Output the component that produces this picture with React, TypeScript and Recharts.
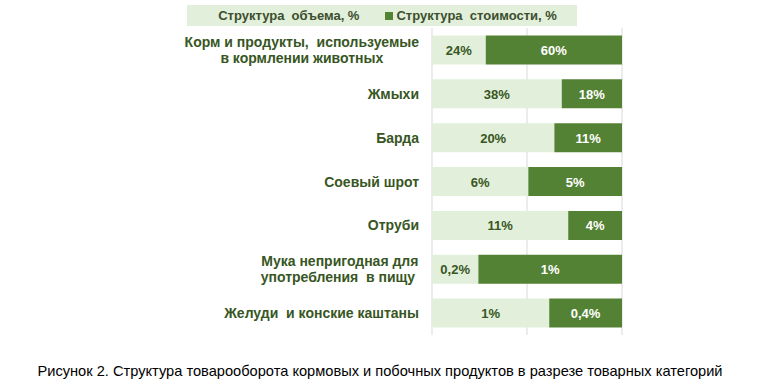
import React from "react";
import { BarChart, Bar, XAxis, YAxis, CartesianGrid, Legend, LabelList } from "recharts";

const categories = [
  "Корм и продукты,  используемые\nв кормлении животных",
  "Жмыхи",
  "Барда",
  "Соевый шрот",
  "Отруби",
  "Мука непригодная для\nупотребления  в пищу ",
  "Желуди  и конские каштаны",
];
// share of bar length, %
const volumeShare = [28.3, 68.3, 64.4, 50.7, 71.7, 24.4, 61.7];
const costShare = [71.7, 31.7, 35.6, 49.3, 28.3, 75.6, 38.3];
const volumeLabels = ["24%", "38%", "20%", "6%", "11%", "0,2%", "1%"];
const costLabels = ["60%", "18%", "11%", "5%", "4%", "1%", "0,4%"];
const seriesNames = ["Структура  объема, %", "Структура  стоимости, %"];
const caption =
  "Рисунок 2. Структура товарооборота кормовых и побочных продуктов в разрезе товарных категорий";

const data = categories.map((c, i) => ({
  name: c,
  vol: volumeShare[i],
  cost: costShare[i],
  volLabel: volumeLabels[i],
  costLabel: costLabels[i],
}));

const FONT = "'Liberation Sans', Arial, sans-serif";
const LIGHT = "#E2EFDA";
const DARK = "#548235";
const TEXT = "#375623";

let ctx: CanvasRenderingContext2D | null = null;
function measure(t: string, font: string) {
  if (!ctx) ctx = document.createElement("canvas").getContext("2d");
  if (!ctx) return t.length * 8;
  ctx.font = font;
  return ctx.measureText(t).width;
}

function CategoryTick(props: any) {
  const { x, y, payload } = props;
  const lines: string[] = String(payload.value).split("\n");
  const font = `bold 14px ${FONT}`;
  const maxW = Math.max(...lines.map((l) => measure(l, font)));
  const cx = x - maxW / 2;
  const lh = 16;
  const startDy = -((lines.length - 1) * lh) / 2;
  return (
    <text
      x={cx}
      y={y}
      textAnchor="middle"
      fontFamily={FONT}
      fontSize={14}
      fontWeight="bold"
      fill={TEXT}
      style={{ whiteSpace: "pre" }}
    >
      {lines.map((l, i) => (
        <tspan key={i} x={cx} dy={i === 0 ? startDy + 5 : lh} style={{ whiteSpace: "pre" }}>
          {l}
        </tspan>
      ))}
    </text>
  );
}

function makeLabel(key: "volLabel" | "costLabel", color: string) {
  return (props: any) => {
    const { x, y, width, height, index } = props;
    const txt = data[index][key];
    return (
      <text
        x={x + width / 2}
        y={y + height / 2 + 5}
        textAnchor="middle"
        fontFamily={FONT}
        fontSize={13}
        fontWeight="bold"
        fill={color}
      >
        {txt}
      </text>
    );
  };
}

function LegendContent() {
  const colors = [LIGHT, DARK];
  return (
    <div
      style={{
        background: LIGHT,
        height: 21,
        display: "flex",
        alignItems: "center",
        justifyContent: "center",
        fontFamily: FONT,
        fontSize: 13,
        fontWeight: "bold",
        color: "#3B4E2E",
        whiteSpace: "pre",
      }}
    >
      {seriesNames.map((n, i) => (
        <span key={i} style={{ display: "flex", alignItems: "center", marginLeft: i ? 26 : 0 }}>
          <span style={{ width: 8, height: 8, background: colors[i], marginRight: 3, display: "inline-block" }} />
          {n}
        </span>
      ))}
    </div>
  );
}

export default function App() {
  return (
    <div style={{ position: "absolute", left: 0, top: 0, width: 761, height: 387, background: "#fff" }}>
      <BarChart
        width={761}
        height={387}
        data={data}
        layout="vertical"
        margin={{ top: 28, right: 139, bottom: 52, left: 0 }}
        barCategoryGap="17%"
      >
        <CartesianGrid horizontal={false} stroke="#D9D9D9" />
        <XAxis type="number" domain={[0, 100]} ticks={[0, 50, 100]} hide />
        <YAxis
          type="category"
          dataKey="name"
          width={432}
          axisLine={false}
          tickLine={false}
          tickSize={0}
          tickMargin={13}
          interval={0}
          tick={<CategoryTick />}
        />
        <Legend
          layout="horizontal"
          verticalAlign="middle"
          align="center"
          wrapperStyle={{ top: 5, left: 187, width: 390, height: 21 }}
          content={<LegendContent />}
        />
        <Bar dataKey="vol" stackId="a" fill={LIGHT} name={seriesNames[0]} isAnimationActive={false}>
          <LabelList dataKey="vol" content={makeLabel("volLabel", TEXT)} />
        </Bar>
        <Bar dataKey="cost" stackId="a" fill={DARK} name={seriesNames[1]} isAnimationActive={false}>
          <LabelList dataKey="cost" content={makeLabel("costLabel", "#FFFFFF")} />
        </Bar>
      </BarChart>
      <svg width={761} height={387} style={{ position: "absolute", left: 0, top: 0, pointerEvents: "none" }}>
        <text
          x={380}
          y={376}
          textAnchor="middle"
          fontFamily={FONT}
          fontSize={15}
          fill="#000"
          textLength={685}
          lengthAdjust="spacingAndGlyphs"
        >
          {caption}
        </text>
      </svg>
    </div>
  );
}
